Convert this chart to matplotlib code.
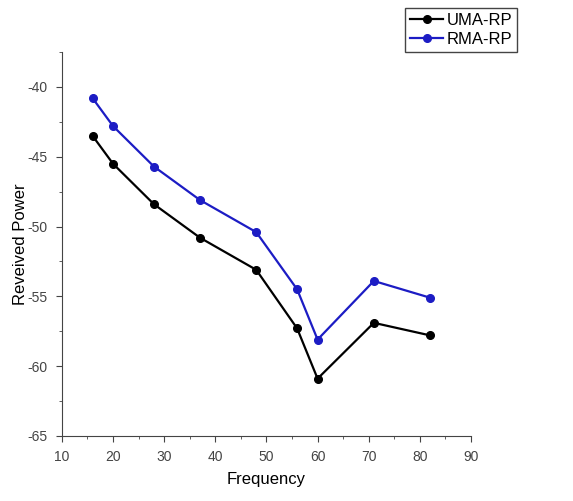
import matplotlib
matplotlib.use("Agg")
import matplotlib.pyplot as plt
from matplotlib.ticker import MultipleLocator

# === Data ===
freq = [16, 20, 28, 37, 48, 56, 60, 71, 82]
uma_rp = [-43.5, -45.5, -48.4, -50.8, -53.1, -57.3, -60.9, -56.9, -57.8]
rma_rp = [-40.8, -42.8, -45.7, -48.1, -50.4, -54.5, -58.1, -53.9, -55.1]

plt.rcParams['font.family'] = ['Liberation Sans', 'DejaVu Sans']
plt.rcParams['axes.unicode_minus'] = False

fig = plt.figure(figsize=(5.73, 5.01), dpi=100)
ax = fig.add_axes([0.108, 0.130, 0.714, 0.766])

ax.plot(freq, uma_rp, color='black', marker='o', markersize=5.5, linewidth=1.6, label='UMA-RP')
ax.plot(freq, rma_rp, color='#1c1cc4', marker='o', markersize=5.5, linewidth=1.6, label='RMA-RP')

ax.set_xlim(10, 90)
ax.set_ylim(-65, -37.5)
ax.xaxis.set_major_locator(MultipleLocator(10))
ax.xaxis.set_minor_locator(MultipleLocator(5))
ax.yaxis.set_major_locator(MultipleLocator(5))
ax.yaxis.set_minor_locator(MultipleLocator(2.5))
ax.tick_params(which='major', direction='out', length=4, labelsize=10, colors='#444444', pad=6)
ax.tick_params(which='minor', direction='out', length=2.5, colors='#444444')

ax.spines['top'].set_visible(False)
ax.spines['right'].set_visible(False)
ax.spines['left'].set_color('#444444')
ax.spines['bottom'].set_color('#444444')

ax.set_xlabel('Frequency', fontsize=12, labelpad=6)
ax.set_ylabel('Reveived Power', fontsize=12, labelpad=0)

fig.legend(loc='upper right', bbox_to_anchor=(0.903, 0.985), fontsize=12,
           fancybox=False, edgecolor='#444444', framealpha=1,
           handlelength=2.0, borderpad=0.3, labelspacing=0.25, handletextpad=0.2,
           borderaxespad=0.0)

fig.savefig('out.png', dpi=100)
